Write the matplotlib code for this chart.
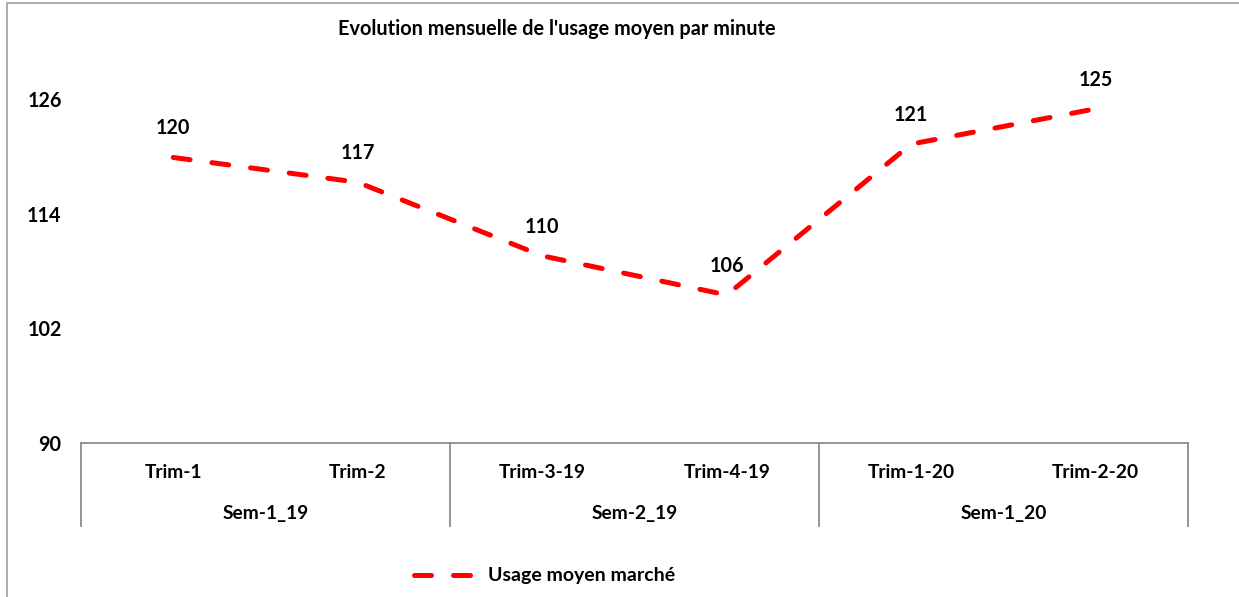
import matplotlib
matplotlib.use('Agg')
import matplotlib.pyplot as plt
from matplotlib.patches import Rectangle
import matplotlib.transforms as mtransforms

plt.rcParams['font.family'] = ['Lato', 'DejaVu Sans']
plt.rcParams['font.weight'] = 'bold'

# donnees
trim_labels = ['Trim-1', 'Trim-2', 'Trim-3-19', 'Trim-4-19', 'Trim-1-20', 'Trim-2-20']
sem_labels = ['Sem-1_19', 'Sem-2_19', 'Sem-1_20']
usage = [119.9, 117.3, 109.6, 105.5, 121.3, 125.0]
yticks = [90, 102, 114, 126]
titre = "Evolution mensuelle de l'usage moyen par minute"
serie = 'Usage moyen marché'

W, H = 1239, 597
fig = plt.figure(figsize=(W / 100, H / 100), dpi=100)
ax = fig.add_axes([81 / W, 1 - 443 / H, (1188 - 81) / W, (443 - 61) / H])

red = '#ff0000'
grey = '#8c8c8c'
fs = 14.2

xs = list(range(1, len(usage) + 1))
dash = (0, (3.4, 4.4))
ln, = ax.plot(xs, usage, color=red, linewidth=3.6, linestyle=dash,
              dash_capstyle='round', dash_joinstyle='round', label=serie)

for x, v in zip(xs, usage):
    ax.annotate('%d' % round(v), (x, v), xytext=(0, 21), textcoords='offset points',
                ha='center', va='center', fontsize=fs, fontweight='bold')

ax.set_xlim(0.5, len(usage) + 0.5)
ax.set_ylim(90, 130)
ax.set_yticks(yticks)
ax.set_yticklabels([str(t) for t in yticks], fontsize=fs, fontweight='bold')
ax.tick_params(axis='y', length=0, pad=14)
ax.set_xticks([])
for s in ['top', 'right', 'left']:
    ax.spines[s].set_visible(False)
ax.spines['bottom'].set_color(grey)
ax.spines['bottom'].set_linewidth(1.3)

# axe categories a deux niveaux
trans = mtransforms.blended_transform_factory(ax.transData, ax.transAxes)
hpx = 443 - 61
for i, lab in enumerate(trim_labels):
    ax.text(i + 1, -(472 - 443) / hpx, lab, transform=trans, ha='center', va='center',
            fontsize=13.8, fontweight='bold')
for j, lab in enumerate(sem_labels):
    ax.text(2 * j + 1.5, -(513 - 443) / hpx, lab, transform=trans, ha='center', va='center',
            fontsize=13.8, fontweight='bold')
for k in range(len(sem_labels) + 1):
    ax.plot([0.5 + 2 * k] * 2, [0, -(526 - 443) / hpx], transform=trans, color=grey,
            lw=1.3, clip_on=False)

fig.text(557 / W, 1 - 29 / H, titre, ha='center', va='center', fontsize=14.3, fontweight='bold')

fig.legend([ln], [serie], loc='center left', bbox_to_anchor=(414 / W, 1 - 576 / H),
           frameon=False, borderpad=0, borderaxespad=0,
           handlelength=3.2, handletextpad=0.6, prop={'size': 14, 'weight': 'bold'})

fig.patches.append(Rectangle((7 / W, -0.1), 1.2, 1.1 - 3 / H, transform=fig.transFigure,
                             fill=False, edgecolor='#a6a6a6', lw=1.3))

fig.savefig('out.png', dpi=100)
